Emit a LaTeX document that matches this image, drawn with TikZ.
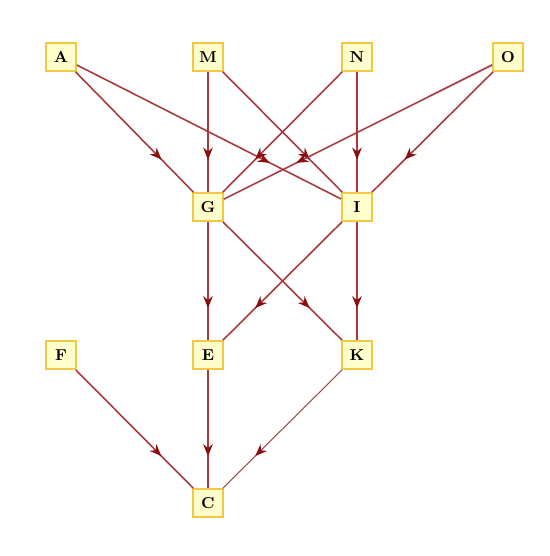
\documentclass[tikz,border=0pt]{standalone}
\usepackage{xcolor}
\usepackage{tikz}
\usetikzlibrary{arrows.meta,decorations.markings}
\definecolor{boxfill}{HTML}{FFFFCC}
\definecolor{boxline}{HTML}{F2C744}
\definecolor{wire}{HTML}{A8383E}
\definecolor{tip}{HTML}{8A1010}
\tikzset{
  box/.style={draw=boxline, fill=boxfill, line width=1pt, minimum width=0.6cm,
    minimum height=0.56cm, inner sep=0pt, font=\small\bfseries},
  edge/.style={draw=wire, line width=0.9pt, postaction={decorate},
    decoration={markings, mark=at position 0.73 with {\arrow[tip]{Stealth[length=2.4mm,width=1.9mm]}}}},
  heavy/.style={edge, line width=1.6pt},
  faint/.style={edge, draw=wire!70!gray, line width=0.6pt}
}

\begin{document}
\begin{tikzpicture}[x=0.02cm, y=-0.02cm]
    \useasboundingbox (0,0) rectangle (550,556);

    % Top row
    \node[box] (A) at (61,57) {A};
    \node[box] (M) at (208,57) {M};
    \node[box] (N) at (357,57) {N};
    \node[box] (O) at (508,57) {O};

    % Middle rows
    \node[box] (G) at (208,207) {G};
    \node[box] (I) at (357,207) {I};
    \node[box] (F) at (61,355) {F};
    \node[box] (E) at (208,355) {E};
    \node[box] (K) at (357,355) {K};

    % Bottom
    \node[box] (C) at (208,503) {C};

    % Edges
    \draw[edge] (A) -- (G);
    \draw[edge] (A) -- (I);
    \draw[heavy] (M) -- (G);
    \draw[edge] (M) -- (I);
    \draw[edge] (N) -- (G);
    \draw[heavy] (N) -- (I);
    \draw[edge] (O) -- (G);
    \draw[edge] (O) -- (I);
    \draw[heavy] (G) -- (E);
    \draw[edge] (G) -- (K);
    \draw[edge] (I) -- (E);
    \draw[heavy] (I) -- (K);
    \draw[edge] (F) -- (C);
    \draw[heavy] (E) -- (C);
    \draw[faint] (K) -- (C);
\end{tikzpicture}
\end{document}
